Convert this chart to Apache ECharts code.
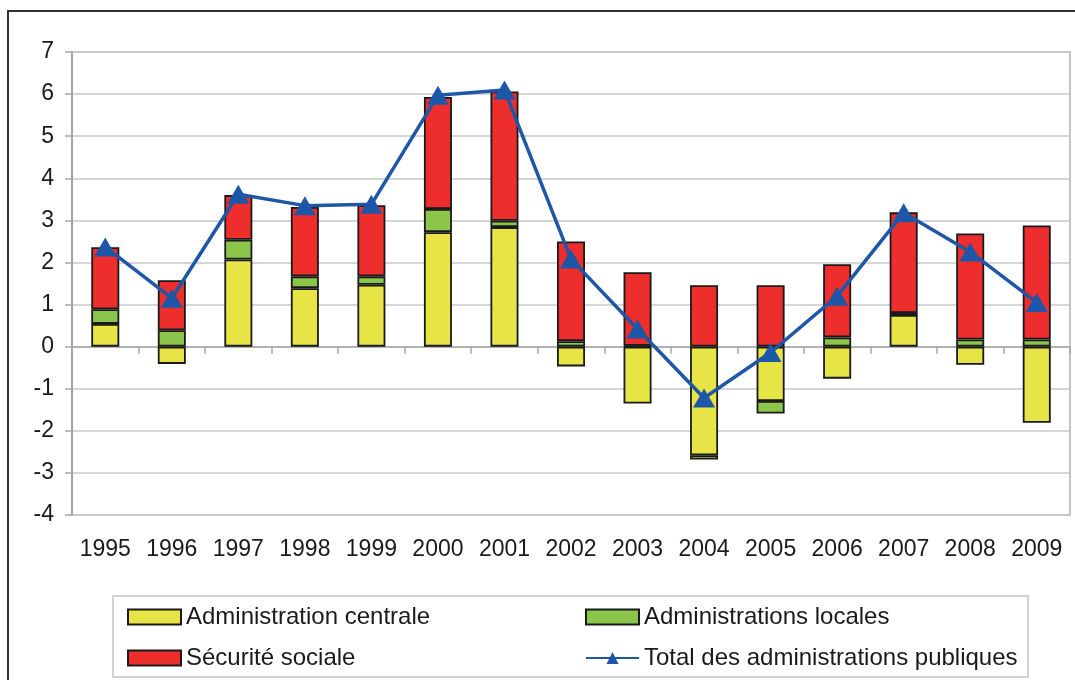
<!DOCTYPE html>
<html>
<head>
<meta charset="utf-8">
<script src="https://cdn.jsdelivr.net/npm/echarts@6/dist/echarts.min.js"></script>
<style>
  html, body { margin: 0; padding: 0; background: #fff; }
  #chart { width: 1075px; height: 680px; }
</style>
</head>
<body>
<div id="chart"></div>
<script>
const years = ['1995', '1996', '1997', '1998', '1999', '2000', '2001', '2002', '2003', '2004', '2005', '2006', '2007', '2008', '2009']
const yTicks = [-4, 7]

// contributions (points de PIB)
const adminCentrale = [0.54, -0.41, 2.07, 1.39, 1.47, 2.72, 2.84, -0.47, -1.35, -2.58, -1.29, -0.76, 0.75, -0.43, -1.81]
const adminLocales = [0.35, 0.39, 0.47, 0.28, 0.20, 0.55, 0.15, 0.13, 0.02, -0.10, -0.30, 0.22, 0.05, 0.17, 0.17]
const securiteSociale = [1.47, 1.19, 1.06, 1.65, 1.69, 2.66, 3.07, 2.37, 1.75, 1.46, 1.46, 1.74, 2.39, 2.52, 2.71]
const totalAPU = [2.37, 1.15, 3.62, 3.35, 3.38, 5.97, 6.10, 2.08, 0.42, -1.22, -0.14, 1.20, 3.18, 2.25, 1.05]

const labelFont = { fontFamily: 'Liberation Sans, Arial, sans-serif', fontSize: 23, color: '#1a1a1a' }

const chart = echarts.init(document.getElementById('chart'))

const barStyle = (color) => ({
  color: color,
  borderColor: '#1a1a1a',
  borderWidth: 1.8
})

const legendBase = {
  itemWidth: 53,
  itemHeight: 15,
  itemGap: 6,
  textStyle: { ...labelFont, fontSize: 24 }
}

chart.setOption({
  animation: false,
  grid: {
    left: 72,
    right: 5,
    top: 52,
    bottom: 165,
    show: true,
    borderColor: '#b3b3b3',
    borderWidth: 1.5
  },
  graphic: [
    {
      type: 'rect',
      shape: { x: 8, y: 11, width: 1100, height: 700 },
      style: { fill: 'none', stroke: '#333', lineWidth: 2 },
      silent: true
    },
    {
      type: 'rect',
      shape: { x: 113, y: 596, width: 915, height: 81 },
      style: { fill: 'none', stroke: '#c4c4c4', lineWidth: 1.5 },
      silent: true
    }
  ],
  legend: [
    { ...legendBase, left: 122, top: 600, icon: 'rect', data: ['Administration centrale'] },
    { ...legendBase, left: 580, top: 600, icon: 'rect', data: ['Administrations locales'] },
    { ...legendBase, left: 122, top: 641, icon: 'rect', data: ['Sécurité sociale'] },
    { ...legendBase, left: 580, top: 641, data: ['Total des administrations publiques'] }
  ],
  xAxis: [
    {
      type: 'category',
      data: years,
      axisLine: { onZero: true, lineStyle: { color: '#a6a6a6', width: 1.5 } },
      axisTick: { show: true, length: 7, lineStyle: { color: '#a6a6a6', width: 1.5 } },
      axisLabel: { show: false }
    },
    {
      type: 'category',
      data: years,
      position: 'bottom',
      axisLine: { show: false, onZero: false },
      axisTick: { show: false },
      axisLabel: { ...labelFont, margin: 23 }
    }
  ],
  yAxis: {
    type: 'value',
    min: yTicks[0],
    max: yTicks[1],
    interval: 1,
    axisLine: { show: true, lineStyle: { color: '#999', width: 1.5 } },
    axisTick: { show: true, length: 7, lineStyle: { color: '#a6a6a6', width: 1.5 } },
    axisLabel: { ...labelFont, margin: 18 },
    splitLine: { lineStyle: { color: '#c8c8c8', width: 1.5 } }
  },
  series: [
    {
      name: 'Administration centrale',
      type: 'bar',
      stack: 'apu',
      barWidth: 28,
      data: adminCentrale,
      itemStyle: barStyle('#e6e545')
    },
    {
      name: 'Administrations locales',
      type: 'bar',
      stack: 'apu',
      barWidth: 28,
      data: adminLocales,
      itemStyle: barStyle('#8bc64a')
    },
    {
      name: 'Sécurité sociale',
      type: 'bar',
      stack: 'apu',
      barWidth: 28,
      data: securiteSociale,
      itemStyle: barStyle('#ee2d2d')
    },
    {
      name: 'Total des administrations publiques',
      type: 'line',
      data: totalAPU,
      symbol: 'triangle',
      symbolSize: [22, 19],
      lineStyle: { color: '#1f57a8', width: 3.5 },
      itemStyle: { color: '#1f57a8' },
      z: 5
    }
  ]
})
</script>
</body>
</html>
